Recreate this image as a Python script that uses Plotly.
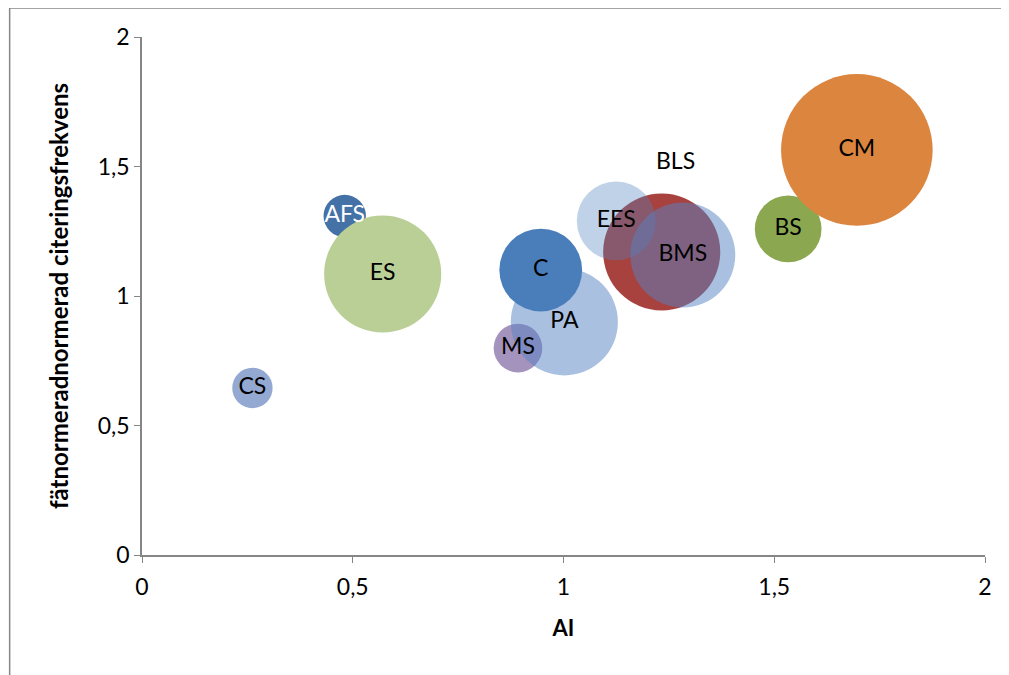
import plotly.graph_objects as go

# bubble data, in the order Excel draws them
names = ["CS", "AFS", "ES", "MS", "PA", "C", "BLS", "EES", "BMS", "BS", "CM"]
ai = [0.262, 0.481, 0.571, 0.892, 1.002, 0.946, 1.233, 1.125, 1.283, 1.533, 1.696]
citation = [0.645, 1.309, 1.085, 0.799, 0.900, 1.100, 1.170, 1.290, 1.158, 1.259, 1.564]
bubble_size = [4.0, 4.4, 33.6, 5.8, 28.1, 16.8, 33.6, 15.2, 27.0, 10.9, 56.3]

tick_vals = [0, 0.5, 1, 1.5, 2]
tick_text = ["0", "0,5", "1", "1,5", "2"]

colors = {
    "CS": "#93a9d1",
    "AFS": "#4472a6",
    "ES": "#bacf96",
    "MS": "#a494bd",
    "PA": "rgba(85,129,195,0.5)",
    "C": "#4a7ebb",
    "BLS": "#a8423f",
    "EES": "rgba(79,129,189,0.36)",
    "BMS": "rgba(85,129,195,0.5)",
    "BS": "#8ba851",
    "CM": "#dc853e",
}

FONT = "Lato, Calibri, sans-serif"
GRAY = "#868686"

fig = go.Figure()

fig.add_trace(go.Scatter(
    x=ai, y=citation, mode="markers",
    marker=dict(size=bubble_size, sizemode="area", sizeref=0.0049, opacity=1,
                color=[colors[n] for n in names], line=dict(width=0)),
    hovertext=names, showlegend=False,
))

# labels on top of all bubbles (BLS label sits above its bubble)
lab = [i for i, n in enumerate(names) if n != "BLS"]
fig.add_trace(go.Scatter(
    x=[ai[i] for i in lab], y=[citation[i] for i in lab],
    mode="text", text=[names[i] for i in lab],
    textfont=dict(family=FONT, size=23,
                  color=["white" if names[i] == "AFS" else "black" for i in lab]),
    textposition="middle center", showlegend=False, hoverinfo="skip",
))
b = names.index("BLS")
fig.add_annotation(x=ai[b], y=citation[b], text="BLS", showarrow=False,
                   xshift=14, yshift=92, font=dict(family=FONT, size=23, color="black"))

axis_common = dict(range=[0, 2], tickvals=tick_vals, ticktext=tick_text,
                   showgrid=False, zeroline=False, showline=True, linecolor=GRAY,
                   linewidth=1.5, ticks="outside", ticklen=6, tickcolor=GRAY,
                   tickfont=dict(family=FONT, size=23, color="black"))

fig.update_xaxes(**axis_common, ticklabelstandoff=5,
                 title=dict(text="<b>AI</b>", font=dict(family=FONT, size=22, color="black"),
                            standoff=21))
fig.update_yaxes(**axis_common,
                 title=dict(text="<b>fätnormeradnormerad citeringsfrekvens</b>",
                            font=dict(family=FONT, size=24, color="black"), standoff=22))

# outer chart border
fig.add_shape(type="rect", xref="paper", yref="paper", x0=-0.157, x1=1.1, y0=-0.4, y1=1.056,
              line=dict(color=GRAY, width=1.5), fillcolor="rgba(0,0,0,0)", layer="below")

# page body adds an 8px offset, so the figure is shifted back by that amount
fig.update_layout(
    width=1001, height=667,
    margin=dict(l=134, r=24, t=29, b=120),
    plot_bgcolor="white", paper_bgcolor="white",
)

fig.write_html("out.html")
